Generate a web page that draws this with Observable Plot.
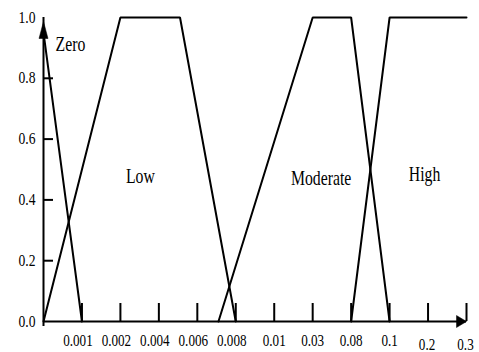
<!DOCTYPE html>
<html><head><meta charset="utf-8">
<script src="https://cdn.jsdelivr.net/npm/d3@7"></script>
<script src="https://cdn.jsdelivr.net/npm/@observablehq/plot@0.6"></script>
<style>
html,body{margin:0;padding:0;background:#fff}
#chart svg{display:block}
</style>
</head><body><div id="chart"></div>
<script>
// x axis: ordinal tick labels at equally spaced positions 1..11 (position 0 = origin)
const xTickLabels = ["0.001","0.002","0.004","0.006","0.008","0.01","0.03","0.08","0.1","0.2","0.3"];
const yTicks = [0.2, 0.4, 0.6, 0.8];
const yTickLabels = [0.0, 0.2, 0.4, 0.6, 0.8, 1.0];

// membership functions (x in tick-position units, y = membership)
const zeroX = [0, 1];          const zeroY = [0.95, 0];
const lowX = [0, 2, 3.55, 5];  const lowY = [0, 1, 1, 0];
const modX = [4.55, 7, 8, 9];  const modY = [0, 1, 1, 0];
const highX = [8, 9, 11];      const highY = [0, 1, 1];

const setNames = ["Zero", "Low", "Moderate", "High"];
const labelX = [0.70, 2.52, 7.22, 9.91];
const labelY = [0.891, 0.454, 0.45, 0.461];

const W = 479, H = 352;
const mTop = 17, mBottom = 31, mLeft = 43, mRight = 13;
const innerH = H - mTop - mBottom, innerW = W - mLeft - mRight;

const series = [
  [zeroX, zeroY, "Zero"], [lowX, lowY, "Low"], [modX, modY, "Moderate"], [highX, highY, "High"]
];
const lineData = series.flatMap(([xs, ys, name]) => xs.map((x, i) => ({x, y: ys[i], set: name})));
const tickData = xTickLabels.map((label, i) => ({pos: i + 1, label}));
const tickA = tickData.slice(0, 5);
const tickB = tickData.slice(5, 9);
const tickC = tickData.slice(9);
const labelData = setNames.map((name, i) => ({name, x: labelX[i], y: labelY[i]}));

const xMax = xTickLabels.length;
const yMax = yTickLabels[yTickLabels.length - 1];

const upHead = {draw(ctx) { ctx.moveTo(0, 4); ctx.lineTo(4.5, 21); ctx.lineTo(-4.5, 21); ctx.closePath(); }};
const rightHead = {draw(ctx) { ctx.moveTo(0, 0); ctx.lineTo(-10, -6); ctx.lineTo(-10, 6); ctx.closePath(); }};

const font = "'Liberation Serif', 'Times New Roman', serif";
const xl = {x: "pos", y: 0, text: "label", lineAnchor: "bottom", textAnchor: "middle", fontSize: 16, fill: "#000", className: "sq-x"};

const chart = Plot.plot({
  width: W, height: H,
  marginTop: mTop, marginBottom: mBottom, marginLeft: mLeft, marginRight: mRight,
  x: {domain: [0, xMax], axis: null},
  y: {domain: [0, yMax], axis: null},
  style: {background: "#fff", fontFamily: font, color: "#000", overflow: "visible"},
  marks: [
    // axes lines
    Plot.ruleY([0], {x1: 0, x2: xMax, stroke: "#000", strokeWidth: 2}),
    Plot.ruleX([0], {y1: 0, y2: yMax, stroke: "#000", strokeWidth: 2, insetTop: 5}),
    // ticks (inward)
    Plot.tickX(tickData, {x: "pos", stroke: "#000", strokeWidth: 2, insetTop: innerH - 18}),
    Plot.tickY(yTicks, {y: d => d, stroke: "#000", strokeWidth: 2, insetRight: innerW - 10}),
    // membership functions
    Plot.line(lineData, {x: "x", y: "y", z: "set", stroke: "#000", strokeWidth: 2, strokeLinejoin: "miter"}),
    // arrow heads
    Plot.dot([{x: 0, y: yMax}], {x: "x", y: "y", symbol: upHead, fill: "#000", stroke: "#000", strokeWidth: 0.5}),
    Plot.dot([{x: xMax, y: 0}], {x: "x", y: "y", symbol: rightHead, fill: "#000", stroke: "#000", strokeWidth: 0.5}),
    // tick labels
    Plot.text(tickA, {...xl, dx: -4, dy: 24.5}),
    Plot.text(tickB, {...xl, dx: 0, dy: 24.5}),
    Plot.text(tickC, {...xl, dx: -1, dy: 28.5}),
    Plot.text(yTickLabels, {x: 0, y: d => d, text: d => d.toFixed(1), dx: -8, lineAnchor: "middle", textAnchor: "end", fontSize: 16, fill: "#000", className: "sq-y"}),
    // set names
    Plot.text(labelData, {x: "x", y: "y", text: "name", lineAnchor: "bottom", textAnchor: "middle", fontSize: 21, fill: "#000", className: "sq-set"})
  ]
});
document.getElementById("chart").appendChild(chart);

// emulate the condensed serif face of the original (horizontal squeeze about each anchor)
const squeeze = {"sq-x": 0.82, "sq-y": 0.85, "sq-set": 0.75};
for (const [cls, s] of Object.entries(squeeze)) {
  chart.querySelectorAll(`.${cls} text`).forEach(t => {
    const tr = t.getAttribute("transform") || "";
    const ax = parseFloat(t.getAttribute("x")) || 0;
    t.setAttribute("transform", `${tr} translate(${ax},0) scale(${s},1) translate(${-ax},0)`.trim());
  });
}
</script>
</body></html>
